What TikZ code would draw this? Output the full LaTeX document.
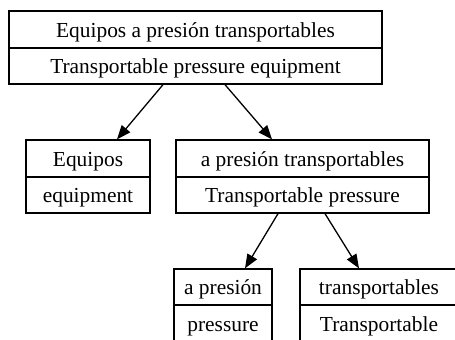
\documentclass[tikz,border=0pt]{standalone}
\usepackage{fontspec}
\newfontfamily\recfont{Liberation Serif}
\usetikzlibrary{arrows.meta}
\begin{document}
\begin{tikzpicture}[x=1bp,y=-1bp,
  cell/.style={draw, line width=1.3bp, inner sep=0pt, text height=15bp, text depth=0bp,
    font=\recfont\fontsize{21.4bp}{25bp}\selectfont},
  link/.style={line width=1.3bp, -{Triangle[length=14bp,width=11bp]}}]
\useasboundingbox (0,0) rectangle (455,339);
\clip (0,0) rectangle (455,339);
% root record
\node[cell, minimum width=373bp, minimum height=37bp] (t1) at (195.5,29.5) {Equipos a presión transportables};
\node[cell, minimum width=373bp, minimum height=36bp] (t2) at (195.5,66) {Transportable pressure equipment};
% second level
\node[cell, minimum width=124bp, minimum height=37bp] (a1) at (88,158.5) {Equipos};
\node[cell, minimum width=124bp, minimum height=36bp] (a2) at (88,195) {equipment};
\node[cell, minimum width=253bp, minimum height=37bp] (b1) at (302.5,158.5) {a presión transportables};
\node[cell, minimum width=253bp, minimum height=36bp] (b2) at (302.5,195) {Transportable pressure};
% third level
\node[cell, minimum width=98bp, minimum height=36bp] (c1) at (223,287) {a presión};
\node[cell, minimum width=98bp, minimum height=37bp] (c2) at (223,323.5) {pressure};
\node[cell, minimum width=158bp, minimum height=36bp] (d1) at (379,287) {transportables};
\node[cell, minimum width=158bp, minimum height=37bp] (d2) at (379,323.5) {Transportable};
% connectors
\draw[link] ([xshift=-32.5bp]t2.south) -- ([xshift=29bp]a1.north);
\draw[link] ([xshift=29.5bp]t2.south) -- ([xshift=-30.5bp]b1.north);
\draw[link] ([xshift=-24.5bp]b2.south) -- ([xshift=22bp]c1.north);
\draw[link] ([xshift=22.5bp]b2.south) -- ([xshift=-20bp]d1.north);
\end{tikzpicture}
\end{document}
